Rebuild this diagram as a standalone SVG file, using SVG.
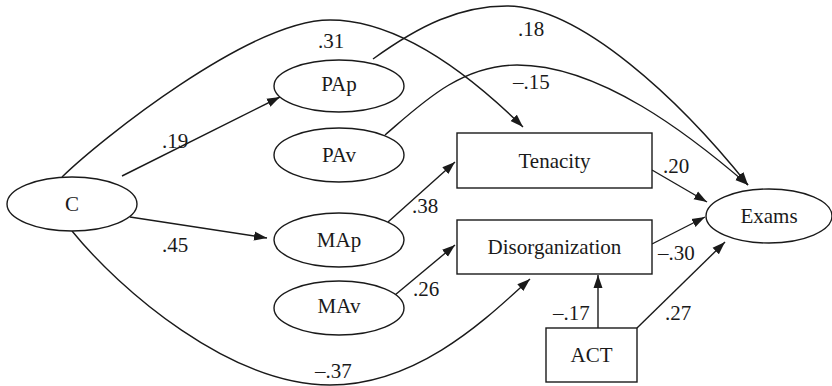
<svg xmlns="http://www.w3.org/2000/svg" width="832" height="386" viewBox="0 0 832 386">
<defs>
<marker id="ah" markerUnits="userSpaceOnUse" markerWidth="14" markerHeight="10" refX="13" refY="5" orient="auto">
<path d="M0,0.5 L13,5 L0,9.5 Z" fill="#1a1a1a"/>
</marker>
<style>
.n{fill:#fff;stroke:#1a1a1a;stroke-width:1.4}
.t{font-size:21px;fill:#1a1a1a;text-anchor:middle}
.l{font-size:21px;fill:#1a1a1a}
.e{fill:none;stroke:#1a1a1a;stroke-width:1.4;marker-end:url(#ah)}
</style>
</defs>
<rect width="832" height="386" fill="#fff"/>
<g id="connectors">
<path class="e" d="M62,177 C100,140 250,20 330,20 C400,20 470,75 523,127"/>
<path class="e" d="M373,59 C420,25 460,6 507,6 C580,6 680,100 748,185"/>
<path class="e" d="M385,135 C420,105 460,65 517,65 C600,65 690,135 748,185"/>
<path class="e" d="M72,231 C120,290 230,385 330,385 C420,385 490,315 530,279"/>
<line class="e" x1="122" y1="176" x2="280" y2="97"/>
<line class="e" x1="130" y1="217" x2="267" y2="238"/>
<line class="e" x1="388" y1="222" x2="455" y2="162"/>
<line class="e" x1="395" y1="295" x2="455" y2="245"/>
<line class="e" x1="652" y1="170" x2="707" y2="202"/>
<line class="e" x1="652" y1="244" x2="705" y2="217"/>
<line class="e" x1="598" y1="328" x2="598" y2="275"/>
<line class="e" x1="637" y1="328" x2="725" y2="242"/>
</g>
<g id="labels" font-family="'Liberation Serif', 'Times New Roman', 'DejaVu Serif', serif">
<text class="l" x="318" y="48">.31</text>
<text class="l" x="162" y="148">.19</text>
<text class="l" x="518" y="36">.18</text>
<text class="l" x="513" y="89">–.15</text>
<text class="l" x="663" y="173">.20</text>
<text class="l" x="412" y="213">.38</text>
<text class="l" x="162" y="252">.45</text>
<text class="l" x="413" y="296">.26</text>
<text class="l" x="658" y="260">–.30</text>
<text class="l" x="553" y="320">–.17</text>
<text class="l" x="665" y="320">.27</text>
<text class="l" x="315" y="378">–.37</text>
</g>
<g id="nodes" font-family="'Liberation Serif', 'Times New Roman', 'DejaVu Serif', serif">
<g id="C"><ellipse class="n" cx="72" cy="204" rx="65" ry="27"/><text class="t" x="72" y="211">C</text></g>
<g id="PAp"><ellipse class="n" cx="339" cy="86" rx="65" ry="26"/><text class="t" x="339" y="91">PAp</text></g>
<g id="PAv"><ellipse class="n" cx="339" cy="155" rx="65" ry="27"/><text class="t" x="339" y="162">PAv</text></g>
<g id="MAp"><ellipse class="n" cx="339" cy="240" rx="65" ry="27"/><text class="t" x="339" y="247">MAp</text></g>
<g id="MAv"><ellipse class="n" cx="339" cy="308" rx="65" ry="27"/><text class="t" x="339" y="313">MAv</text></g>
<g id="Tenacity"><rect class="n" x="457" y="133" width="195" height="55"/><text class="t" x="554.5" y="168">Tenacity</text></g>
<g id="Disorganization"><rect class="n" x="457" y="220" width="195" height="54"/><text class="t" x="554.5" y="254">Disorganization</text></g>
<g id="ACT"><rect class="n" x="546" y="328" width="91" height="54"/><text class="t" x="591.5" y="362">ACT</text></g>
<g id="Exams"><ellipse class="n" cx="769" cy="216" rx="63" ry="27"/><text class="t" x="769" y="223">Exams</text></g>
</g>
</svg>
